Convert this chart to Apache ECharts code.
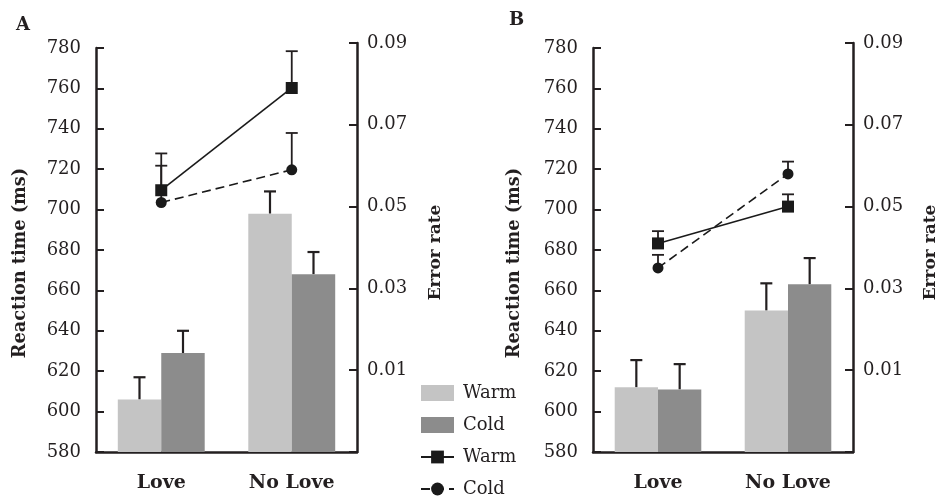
<!DOCTYPE html>
<html>
<head>
<meta charset="utf-8">
<script src="https://cdn.jsdelivr.net/npm/echarts@6/dist/echarts.min.js"></script>
<style>
html,body{margin:0;padding:0;background:#fff;}
#chart{width:941px;height:499px;}
</style>
</head>
<body>
<div id="chart"></div>
<script>
// ---- data ----
const categories = ['Love', 'No Love'];
// Panel A: reaction time (ms) bars and SE
const rtWarmA = [606, 698];
const rtWarmSEA = [11, 11];
const rtColdA = [629, 668];
const rtColdSEA = [11, 11];
// Panel A: error rate lines and SE
const erWarmA = [0.054, 0.079];
const erWarmSEA = [0.009, 0.009];
const erColdA = [0.051, 0.059];
const erColdSEA = [0.009, 0.009];
// Panel B: reaction time (ms)
const rtWarmB = [612, 650];
const rtWarmSEB = [13.5, 13.5];
const rtColdB = [611, 663];
const rtColdSEB = [12.5, 13];
// Panel B: error rate
const erWarmB = [0.041, 0.050];
const erWarmSEB = [0.003, 0.003];
const erColdB = [0.035, 0.058];
const erColdSEB = [0.0032, 0.003];

const panelLabels = ['A', 'B'];

// ---- style ----
const FONT = 'DejaVu Serif';
const INK = '#231f20';
const WARM_BAR = '#c4c4c4';
const COLD_BAR = '#8c8c8c';

function errSeries(xi, yi, vals, ses, frac, lw, cap) {
  return {
    type: 'custom',
    xAxisIndex: xi, yAxisIndex: yi,
    z: 1,
    silent: true,
    data: vals.map((v, i) => [i, v, v + ses[i]]),
    encode: { x: 0, y: [1, 2] },
    renderItem: function (params, api) {
      const i = api.value(0);
      const lo = api.coord([i, api.value(1)]);
      const hi = api.coord([i, api.value(2)]);
      const band = api.size([1, 0])[0];
      const cx = lo[0] + frac * band;
      const st = { stroke: INK, lineWidth: lw };
      return {
        type: 'group',
        children: [
          { type: 'line', shape: { x1: cx, y1: lo[1], x2: cx, y2: hi[1] }, style: st },
          { type: 'line', shape: { x1: cx - cap / 2, y1: hi[1], x2: cx + cap / 2, y2: hi[1] }, style: st }
        ]
      };
    }
  };
}

const panels = [
  { left: 96, right: 941 - 357, rt: [rtWarmA, rtWarmSEA, rtColdA, rtColdSEA], er: [erWarmA, erWarmSEA, erColdA, erColdSEA], lgap: 67, rgap: 70 },
  { left: 593, right: 941 - 853, rt: [rtWarmB, rtWarmSEB, rtColdB, rtColdSEB], er: [erWarmB, erWarmSEB, erColdB, erColdSEB], lgap: 70, rgap: 69 }
];

const grid = [], xAxis = [], yAxis = [], series = [];
panels.forEach((p, k) => {
  const bi = 2 * k, li = 2 * k + 1;
  grid.push({ left: p.left, right: p.right, top: 48, bottom: 47 });
  grid.push({ left: p.left, right: p.right, top: 43, bottom: 47 });
  xAxis.push({
    type: 'category', gridIndex: bi, data: categories,
    axisLine: { lineStyle: { color: INK, width: 2.5 } },
    axisTick: { show: false },
    axisLabel: { color: INK, fontFamily: FONT, fontWeight: 'bold', fontSize: 19, margin: 22 }
  });
  xAxis.push({ type: 'category', gridIndex: li, data: categories, show: false });
  yAxis.push({
    type: 'value', gridIndex: bi, min: 580, max: 780, interval: 20, position: 'left',
    name: 'Reaction time (ms)', nameLocation: 'middle', nameGap: p.lgap, nameRotate: 90,
    nameTextStyle: { color: INK, fontFamily: FONT, fontWeight: 'bold', fontSize: 17.7, padding: [0, 26, 0, 0] },
    axisLine: { show: true, lineStyle: { color: INK, width: 2.5 } },
    axisTick: { show: true, inside: true, length: 8, lineStyle: { color: INK, width: 2 } },
    axisLabel: { color: INK, fontFamily: FONT, fontSize: 18, margin: 15 },
    splitLine: { show: false }
  });
  yAxis.push({
    type: 'value', gridIndex: li, min: -0.01, max: 0.09, interval: 0.02, position: 'right',
    name: 'Error rate', nameLocation: 'middle', nameGap: p.rgap, nameRotate: 90,
    nameTextStyle: { color: INK, fontFamily: FONT, fontWeight: 'bold', fontSize: 17, padding: [0, 10, 0, 0] },
    axisLine: { show: true, lineStyle: { color: INK, width: 2.5 } },
    axisTick: { show: true, inside: true, length: 8, lineStyle: { color: INK, width: 2 } },
    axisLabel: {
      color: INK, fontFamily: FONT, fontSize: 18, margin: 10,
      formatter: v => (v < 0 ? '' : v.toFixed(2))
    },
    splitLine: { show: false }
  });
  const [rw, rwse, rc, rcse] = p.rt;
  const [ew, ewse, ec, ecse] = p.er;
  series.push({
    name: 'Warm', type: 'bar', xAxisIndex: bi, yAxisIndex: bi, data: rw,
    barWidth: '33.3%', barGap: '0%', itemStyle: { color: WARM_BAR }
  });
  series.push({
    name: 'Cold', type: 'bar', xAxisIndex: bi, yAxisIndex: bi, data: rc,
    barWidth: '33.3%', barGap: '0%', itemStyle: { color: COLD_BAR }
  });
  series.push(errSeries(bi, bi, rw, rwse, -1 / 6, 2.2, 12));
  series.push(errSeries(bi, bi, rc, rcse, 1 / 6, 2.2, 12));
  series.push(errSeries(li, li, ew, ewse, 0, 1.8, 12));
  series.push(errSeries(li, li, ec, ecse, 0, 1.8, 12));
  series.push({
    name: 'Warm ', type: 'line', xAxisIndex: li, yAxisIndex: li, data: ew,
    symbol: 'rect', symbolSize: 12, z: 3,
    itemStyle: { color: '#1a1a1a' },
    lineStyle: { color: '#1a1a1a', width: 1.6, type: 'solid' }
  });
  series.push({
    name: 'Cold ', type: 'line', xAxisIndex: li, yAxisIndex: li, data: ec,
    symbol: 'circle', symbolSize: 11, z: 3,
    itemStyle: { color: '#1a1a1a' },
    lineStyle: { color: '#1a1a1a', width: 1.6, type: [9, 5] }
  });
});

const option = {
  animation: false,
  backgroundColor: '#fff',
  title: [
    { text: panelLabels[0], left: 11, top: 11, textStyle: { fontFamily: FONT, fontWeight: 'bold', fontSize: 18, color: INK } },
    { text: panelLabels[1], left: 504, top: 6, textStyle: { fontFamily: FONT, fontWeight: 'bold', fontSize: 18, color: INK } }
  ],
  legend: {
    orient: 'vertical', left: 420, top: 384, padding: 0, height: 200,
    itemWidth: 33, itemHeight: 16, itemGap: 14,
    textStyle: { fontFamily: FONT, fontSize: 18, color: INK, padding: [0, 0, 0, 4] },
    data: [
      { name: 'Warm', icon: 'rect' },
      { name: 'Cold', icon: 'rect' },
      { name: 'Warm ' },
      { name: 'Cold ' }
    ]
  },
  grid, xAxis, yAxis, series
};

const chart = echarts.init(document.getElementById('chart'), null, { renderer: 'canvas' });
chart.setOption(option);
</script>
</body>
</html>
